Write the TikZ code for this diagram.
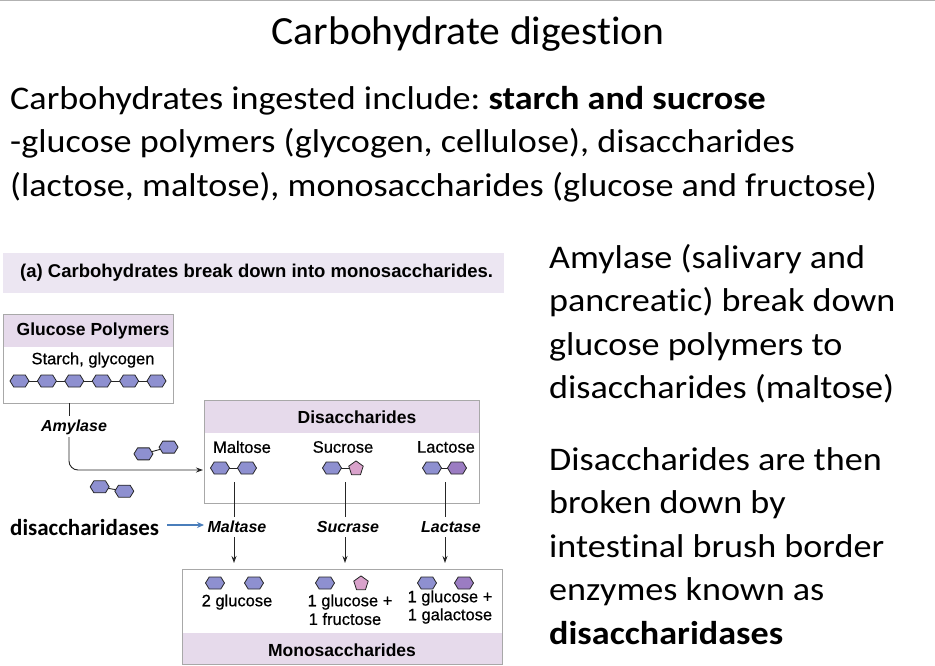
\documentclass[tikz,border=0pt]{standalone}
\usepackage{fontspec}
\setmainfont{Carlito}[FakeStretch=1.095, Ligatures=NoCommon]
\newfontfamily\titlefont{Carlito}[FakeStretch=1.04, Ligatures=NoCommon]
\newfontfamily\labelfont{Carlito}[Ligatures=NoCommon]
\newfontfamily\arial{Liberation Sans}
\newfontfamily\arialm[FakeBold=0.6]{Liberation Sans}
\usetikzlibrary{arrows.meta}
\frenchspacing
\definecolor{hexblue}{HTML}{8E90D0}
\definecolor{hexpurp}{HTML}{9B7CC2}
\definecolor{pentpink}{HTML}{D9A2CB}
\definecolor{band}{HTML}{E6DAEB}
\definecolor{hdrband}{HTML}{ECE6F2}
\definecolor{boxline}{HTML}{A8A8A8}
\definecolor{arrowblue}{HTML}{4A7EBB}
\tikzset{
  boxdraw/.style={draw=boxline, line width=1pt, inner sep=0pt},
  bond/.style={draw=black!85, line width=0.9pt},
  sugar/.style={draw=black!85, line width=0.8pt, line join=round},
  pics/hexa/.style={code={\draw[sugar, fill=#1] (-9.5,0)--(-5.8,-6)--(5.8,-6)--(9.5,0)--(5.8,6)--(-5.8,6)--cycle;}},
  pics/penta/.style={code={\draw[sugar, fill=#1] (270:7.6)--(342:7.6)--(54:7.6)--(126:7.6)--(198:7.6)--cycle;}},
  lbl/.style={font=\arialm\fontsize{16.5}{19}\selectfont, inner sep=0pt},
  enz/.style={font=\arial\bfseries\itshape\fontsize{16}{18}\selectfont, inner sep=0pt},
  hd/.style={font=\arial\bfseries\fontsize{17.5}{20}\selectfont, inner sep=0pt},
  bodytxt/.style={font=\fontsize{33}{40}\selectfont, anchor=base west, inner sep=0pt},
  arr/.style={-{Stealth[length=7pt,width=5pt]}, line width=0.9pt, draw=black!85},
}
\begin{document}
\begin{tikzpicture}[x=1pt,y=-1pt]
\useasboundingbox (0,0) rectangle (935,666);
\fill[white] (0,0) rectangle (935,666);
\draw[black!30, line width=1.2pt] (0,0.8) -- (935,0.8);

% title and text
\node[anchor=base, inner sep=0pt, font=\titlefont\fontsize{40}{48}\selectfont] (title) at (468,45) {Carbohydrate digestion};
\node[bodytxt] (l1) at (10,109.5) {Carbohydrates ingested include: \textbf{starch and sucrose}};
\node[bodytxt] (l2) at (10,153) {-glucose polymers (glycogen, cellulose), disaccharides};
\node[bodytxt] (l3) at (10,196.5) {(lactose, maltose), monosaccharides (glucose and fructose)};

\node[bodytxt] (r1) at (549,268) {Amylase (salivary and};
\node[bodytxt] (r2) at (549,311.5) {pancreatic) break down};
\node[bodytxt] (r3) at (549,355) {glucose polymers to};
\node[bodytxt] (r4) at (549,398.5) {disaccharides (maltose)};
\node[bodytxt] (r5) at (549,470) {Disaccharides are then};
\node[bodytxt] (r6) at (549,513.5) {broken down by};
\node[bodytxt] (r7) at (549,557) {intestinal brush border};
\node[bodytxt] (r8) at (549,600.5) {enzymes known as};
\node[bodytxt] (r9) at (549,644) {\textbf{disaccharidases}};

% header band
\fill[hdrband] (3,253) rectangle (504,293);
\node[font=\arial\bfseries\fontsize{18.5}{20}\selectfont, anchor=west, inner sep=0pt] (hdr) at (20,273) {(a) Carbohydrates break down into monosaccharides.};

% glucose polymers box
\fill[band] (3,314) rectangle (173,347);
\node[boxdraw, anchor=north west, minimum width=170, minimum height=89] (gpbox) at (3,314) {};
\node[hd] (gph) at (93,331) {Glucose Polymers};
\node[lbl] (gpt) at (93,360) {Starch, glycogen};
\draw[bond] (19.5,381) -- (156.5,381);
\foreach \x in {19.5,46.9,74.3,101.7,129.1,156.5} \pic at (\x,381) {hexa=hexblue};

% amylase path
\coordinate (amytop) at (69,403);
\coordinate (amyin) at (69,416);
\coordinate (amyout) at (69,437);
\coordinate (amyend) at (203,470);
\node[enz] (amy) at (74,427) {Amylase};
\draw[bond] (amytop) -- (amyin);
\draw[arr, rounded corners=9] (amyout) |- (amyend);

% floating disaccharides
\begin{scope}[shift={(156,450.5)}, rotate=15]
  \draw[bond] (-13,0) -- (13,0);
  \pic at (-13,0) {hexa=hexblue};
  \pic at (13,0) {hexa=hexblue};
\end{scope}
\begin{scope}[shift={(112,489)}, rotate=-10]
  \draw[bond] (-12.5,0) -- (12.5,0);
  \pic at (-12.5,0) {hexa=hexblue};
  \pic at (12.5,0) {hexa=hexblue};
\end{scope}

% disaccharides box
\fill[band] (204,400) rectangle (479,433);
\node[boxdraw, anchor=north west, minimum width=275, minimum height=103] (disbox) at (204,400) {};
\node[hd] (dish) at (357,417) {Disaccharides};
\node[lbl] (malt) at (242,447) {Maltose};
\node[lbl] (sucr) at (343,447) {Sucrose};
\node[lbl] (lact) at (446,447) {Lactose};
\draw[bond] (220,468) -- (247,468);
\pic at (220,468) {hexa=hexblue};
\pic at (247,468) {hexa=hexblue};
\draw[bond] (332,468) -- (356,468);
\pic at (332,468) {hexa=hexblue};
\pic at (356,468.5) {penta=pentpink};
\draw[bond] (432,468) -- (457,468);
\pic at (432,468) {hexa=hexblue};
\pic at (457,468) {hexa=hexpurp};

% lines down to enzymes
\coordinate (m1) at (234,482); \coordinate (m2) at (234,517);
\coordinate (s1) at (345,482); \coordinate (s2) at (345,517);
\coordinate (la1) at (445,482); \coordinate (la2) at (445,517);
\draw[bond] (m1) -- (m2);
\draw[bond] (s1) -- (s2);
\draw[bond] (la1) -- (la2);

\node[enz] (maltase) at (237,527) {Maltase};
\node[enz] (sucrase) at (348,527) {Sucrase};
\node[enz] (lactase) at (451,527) {Lactase};

\node[anchor=base west, inner sep=0pt, font=\labelfont\bfseries\fontsize{23}{26}\selectfont] (dase) at (10,535) {disaccharidases};
\coordinate (bluestart) at (167,525);
\coordinate (blueend) at (204,525);
\draw[-{Stealth[length=7pt,width=6pt]}, draw=arrowblue, fill=arrowblue, line width=2pt] (bluestart) -- (blueend);

\coordinate (ma1) at (234,537); \coordinate (ma2) at (234,563);
\coordinate (sa1) at (345,537); \coordinate (sa2) at (345,563);
\coordinate (la3) at (445,537); \coordinate (la4) at (445,563);
\draw[arr] (ma1) -- (ma2);
\draw[arr] (sa1) -- (sa2);
\draw[arr] (la3) -- (la4);

% monosaccharides box
\fill[band] (182,633) rectangle (502,664);
\node[boxdraw, anchor=north west, minimum width=320, minimum height=95] (monobox) at (182,569) {};
\node[hd] (monoh) at (342,650) {Monosaccharides};
\pic at (215,583) {hexa=hexblue};
\pic at (254,583) {hexa=hexblue};
\pic at (325,583) {hexa=hexblue};
\pic at (361,583.5) {penta=pentpink};
\pic at (427,583) {hexa=hexblue};
\pic at (464,583) {hexa=hexpurp};
\node[lbl] (g2) at (237,602) {2 glucose};
\node[lbl] (g1a) at (350,602) {1 glucose +};
\node[lbl] (f1) at (345,619) {1 fructose};
\node[lbl] (g1b) at (450,598) {1 glucose +};
\node[lbl] (ga1) at (450,616) {1 galactose};
\end{tikzpicture}
\end{document}
